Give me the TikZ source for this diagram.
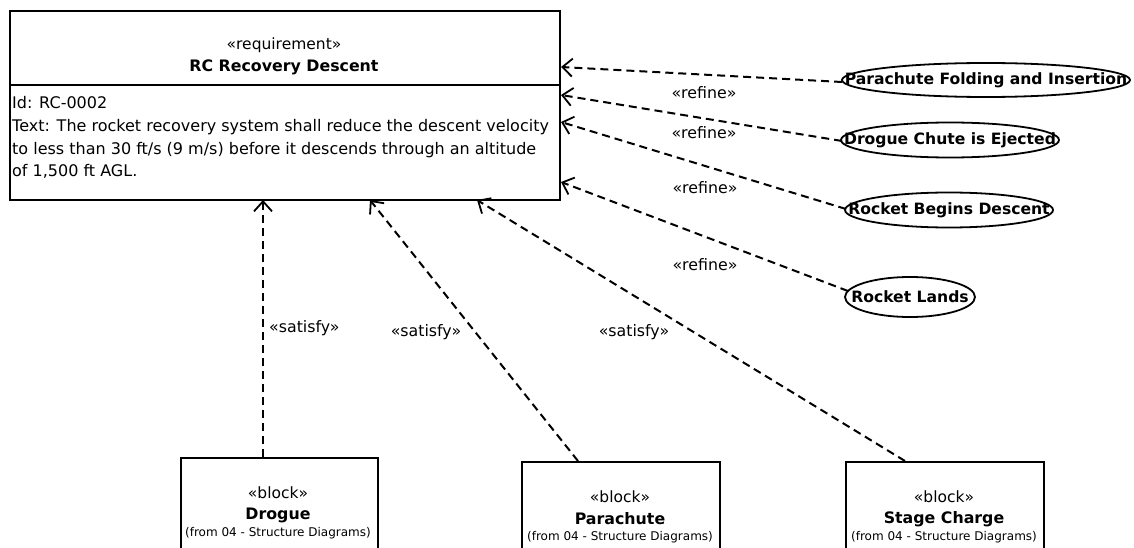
\documentclass[tikz,border=0pt]{standalone}
\usepackage{fontspec}
\setmainfont{DejaVu Sans}
\usetikzlibrary{shapes.geometric,arrows.meta}
\begin{document}
\begin{tikzpicture}[x=1pt,y=-1pt,
  box/.style={draw, line width=2pt, anchor=north west, inner sep=0pt},
  uc/.style={draw, ellipse, line width=1.8pt, inner sep=0pt},
  uctext/.style={font=\fontsize{15.6}{17}\selectfont\bfseries, inner sep=0pt},
  dep/.style={draw, line width=2pt, dash pattern=on 8pt off 5pt,
    -{Straight Barb[length=10pt,width=18pt,line width=1.8pt]}},
  lbl/.style={font=\fontsize{15.8}{17}\selectfont, inner sep=0pt},
  stereo/.style={font=\fontsize{15.5}{17}\selectfont, inner sep=0pt},
  bname/.style={font=\fontsize{15.8}{18}\selectfont\bfseries, inner sep=0pt},
  small/.style={font=\fontsize{12}{13}\selectfont, inner sep=0pt}]
\useasboundingbox (0,0) rectangle (1134,548);
\clip (0,0) rectangle (1134,548);
\fill[white] (0,0) rectangle (1134,548);

% requirement
\node[box, minimum width=550pt, minimum height=189pt] (req) at (9,10) {};
\draw[line width=2pt] (9,85) -- (559,85);
\node[stereo] (reqst) at (284,45) {«requirement»};
\node[bname] (reqname) at (284,67) {RC Recovery Descent};
\node[font=\fontsize{16}{22.7}\selectfont, align=left, anchor=north west, inner sep=0pt] (reqtext) at (12,96.5)
  {Id: RC-0002\\Text: The rocket recovery system shall reduce the descent velocity\\to less than 30 ft/s (9 m/s) before it descends through an altitude\\of 1,500 ft AGL.};

% use cases
\node[uc, minimum width=288pt, minimum height=34pt] (e1) at (986,80) {};
\node[uctext] (e1t) at (986,80) {Parachute Folding and Insertion};
\node[uc, minimum width=218pt, minimum height=35pt] (e2) at (950,140) {};
\node[uctext] (e2t) at (950,140) {Drogue Chute is Ejected};
\node[uc, minimum width=208pt, minimum height=35pt] (e3) at (949,210) {};
\node[uctext] (e3t) at (949,210) {Rocket Begins Descent};
\node[uc, minimum width=130pt, minimum height=40pt] (e4) at (910,297) {};
\node[uctext] (e4t) at (910,297) {Rocket Lands};

\coordinate (t1) at (561,67);
\coordinate (t2) at (561,95);
\coordinate (t3) at (561,122);
\coordinate (t4) at (561,182);
\coordinate (s1) at (842,82);
\coordinate (s2) at (842,141);
\coordinate (s3) at (846,209);
\coordinate (s4) at (848,291);
\draw[dep] (s1) -- (t1);
\draw[dep] (s2) -- (t2);
\draw[dep] (s3) -- (t3);
\draw[dep] (s4) -- (t4);
\node[lbl] (r1) at (704,93) {«refine»};
\node[lbl] (r2) at (704,133) {«refine»};
\node[lbl] (r3) at (705,188) {«refine»};
\node[lbl] (r4) at (705,265) {«refine»};

% blocks
\node[box, minimum width=197pt, minimum height=130pt] (drogue) at (180,457) {};
\node[stereo] (dst) at (278,493) {«block»};
\node[bname] (dn) at (278,515) {Drogue};
\node[small] (df) at (278,533) {(from 04 - Structure Diagrams)};

\node[box, minimum width=198pt, minimum height=130pt] (para) at (521,461) {};
\node[stereo] (pst) at (620,497) {«block»};
\node[bname] (pn) at (620,519) {Parachute};
\node[small] (pf) at (620,537) {(from 04 - Structure Diagrams)};

\node[box, minimum width=198pt, minimum height=130pt] (stage) at (845,461) {};
\node[stereo] (sst) at (944,497) {«block»};
\node[bname] (sn) at (944,519) {Stage Charge};
\node[small] (sf) at (944,537) {(from 04 - Structure Diagrams)};

\coordinate (b1) at (263,457);
\coordinate (b2) at (578,461);
\coordinate (b3) at (905,461);
\coordinate (u1) at (263,200);
\coordinate (u2) at (370,200);
\coordinate (u3) at (477,200);
\draw[dep] (b1) -- (u1);
\draw[dep] (b2) -- (u2);
\draw[dep] (b3) -- (u3);
\node[lbl, anchor=west] (sa1) at (269,328) {«satisfy»};
\node[lbl] (sa2) at (426,332) {«satisfy»};
\node[lbl] (sa3) at (634,332) {«satisfy»};
\end{tikzpicture}
\end{document}
